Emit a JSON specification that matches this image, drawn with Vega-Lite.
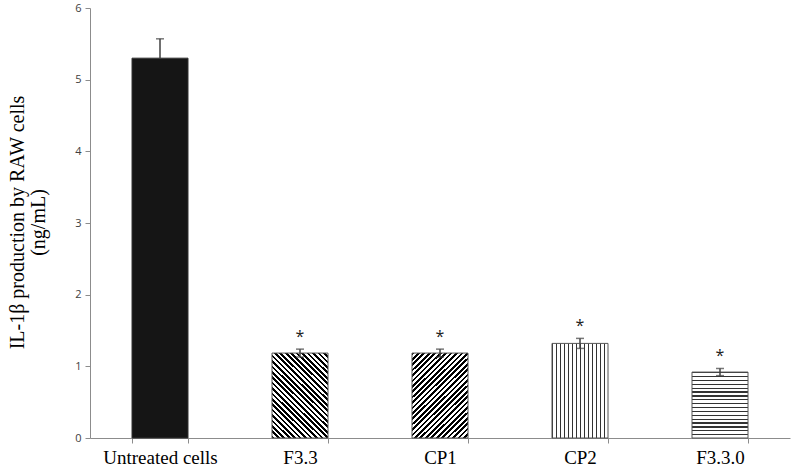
{
  "$schema": "https://vega.github.io/schema/vega-lite/v6.json",
  "autosize": {"type": "none"},
  "padding": {"left": 90, "top": 8, "right": 2, "bottom": 29},
  "width": 700,
  "height": 430,
  "background": "white",
  "config": {"view": {"stroke": null}},
  "data": {"values": [
    {"group": "Untreated cells", "mean": 5.3, "err": 0.27, "sig": ""},
    {"group": "F3.3", "mean": 1.185, "err": 0.055, "sig": "*"},
    {"group": "CP1", "mean": 1.185, "err": 0.055, "sig": "*"},
    {"group": "CP2", "mean": 1.32, "err": 0.07, "sig": "*"},
    {"group": "F3.3.0", "mean": 0.92, "err": 0.05, "sig": "*"}
  ]},
  "encoding": {
    "x": {"field": "group", "type": "nominal", "sort": null,
      "scale": {"paddingInner": 0.6, "paddingOuter": 0.3},
      "axis": {"title": null, "labelAngle": 0, "labelFont": "Liberation Serif", "labelFontSize": 19, "labelColor": "black",
        "tickBand": "extent", "tickSize": 5, "labelPadding": 5, "domainColor": "#8c8c8c", "tickColor": "#8c8c8c", "grid": false}}
  },
  "layer": [
    {
      "transform": [{"filter": "datum.group === 'Untreated cells'"}],
      "mark": {"type": "bar", "fill": "#151515", "stroke": "#333333", "strokeWidth": 1},
      "encoding": {
        "y": {"field": "mean", "type": "quantitative",
          "scale": {"domain": [0, 6], "nice": false},
          "axis": {"values": [0, 1, 2, 3, 4, 5, 6], "format": "d", "grid": false, "tickSize": 5, "labelPadding": 4,
            "labelFont": "Open Sans", "labelFontSize": 11, "labelColor": "#404040",
            "domainColor": "#8c8c8c", "tickColor": "#8c8c8c",
            "title": ["IL-1β production by  RAW cells", "(ng/mL)"],
            "titleFont": "Liberation Serif", "titleFontSize": 20, "titleFontWeight": "normal", "titleColor": "black",
            "titleAngle": -90, "titleAlign": "center", "titleBaseline": "top", "titleLineHeight": 21,
            "titleX": -83, "titleY": 214}}
      }
    },
    {
      "transform": [{"filter": "datum.group === 'F3.3'"}],
      "mark": {"type": "bar", "stroke": "#555555", "strokeWidth": 1,
        "fill": {"gradient": "linear", "x1": 0, "y1": 1, "x2": 0.757, "y2": -0.159, "stops": [
          {"offset": 0, "color": "black"}, {"offset": 0.0192, "color": "black"}, {"offset": 0.0192, "color": "white"}, {"offset": 0.0385, "color": "white"},
          {"offset": 0.0385, "color": "black"}, {"offset": 0.0577, "color": "black"}, {"offset": 0.0577, "color": "white"}, {"offset": 0.0769, "color": "white"},
          {"offset": 0.0769, "color": "black"}, {"offset": 0.0962, "color": "black"}, {"offset": 0.0962, "color": "white"}, {"offset": 0.1154, "color": "white"},
          {"offset": 0.1154, "color": "black"}, {"offset": 0.1346, "color": "black"}, {"offset": 0.1346, "color": "white"}, {"offset": 0.1538, "color": "white"},
          {"offset": 0.1538, "color": "black"}, {"offset": 0.1731, "color": "black"}, {"offset": 0.1731, "color": "white"}, {"offset": 0.1923, "color": "white"},
          {"offset": 0.1923, "color": "black"}, {"offset": 0.2115, "color": "black"}, {"offset": 0.2115, "color": "white"}, {"offset": 0.2308, "color": "white"},
          {"offset": 0.2308, "color": "black"}, {"offset": 0.25, "color": "black"}, {"offset": 0.25, "color": "white"}, {"offset": 0.2692, "color": "white"},
          {"offset": 0.2692, "color": "black"}, {"offset": 0.2885, "color": "black"}, {"offset": 0.2885, "color": "white"}, {"offset": 0.3077, "color": "white"},
          {"offset": 0.3077, "color": "black"}, {"offset": 0.3269, "color": "black"}, {"offset": 0.3269, "color": "white"}, {"offset": 0.3462, "color": "white"},
          {"offset": 0.3462, "color": "black"}, {"offset": 0.3654, "color": "black"}, {"offset": 0.3654, "color": "white"}, {"offset": 0.3846, "color": "white"},
          {"offset": 0.3846, "color": "black"}, {"offset": 0.4038, "color": "black"}, {"offset": 0.4038, "color": "white"}, {"offset": 0.4231, "color": "white"},
          {"offset": 0.4231, "color": "black"}, {"offset": 0.4423, "color": "black"}, {"offset": 0.4423, "color": "white"}, {"offset": 0.4615, "color": "white"},
          {"offset": 0.4615, "color": "black"}, {"offset": 0.4808, "color": "black"}, {"offset": 0.4808, "color": "white"}, {"offset": 0.5, "color": "white"},
          {"offset": 0.5, "color": "black"}, {"offset": 0.5192, "color": "black"}, {"offset": 0.5192, "color": "white"}, {"offset": 0.5385, "color": "white"},
          {"offset": 0.5385, "color": "black"}, {"offset": 0.5577, "color": "black"}, {"offset": 0.5577, "color": "white"}, {"offset": 0.5769, "color": "white"},
          {"offset": 0.5769, "color": "black"}, {"offset": 0.5962, "color": "black"}, {"offset": 0.5962, "color": "white"}, {"offset": 0.6154, "color": "white"},
          {"offset": 0.6154, "color": "black"}, {"offset": 0.6346, "color": "black"}, {"offset": 0.6346, "color": "white"}, {"offset": 0.6538, "color": "white"},
          {"offset": 0.6538, "color": "black"}, {"offset": 0.6731, "color": "black"}, {"offset": 0.6731, "color": "white"}, {"offset": 0.6923, "color": "white"},
          {"offset": 0.6923, "color": "black"}, {"offset": 0.7115, "color": "black"}, {"offset": 0.7115, "color": "white"}, {"offset": 0.7308, "color": "white"},
          {"offset": 0.7308, "color": "black"}, {"offset": 0.75, "color": "black"}, {"offset": 0.75, "color": "white"}, {"offset": 0.7692, "color": "white"},
          {"offset": 0.7692, "color": "black"}, {"offset": 0.7885, "color": "black"}, {"offset": 0.7885, "color": "white"}, {"offset": 0.8077, "color": "white"},
          {"offset": 0.8077, "color": "black"}, {"offset": 0.8269, "color": "black"}, {"offset": 0.8269, "color": "white"}, {"offset": 0.8462, "color": "white"},
          {"offset": 0.8462, "color": "black"}, {"offset": 0.8654, "color": "black"}, {"offset": 0.8654, "color": "white"}, {"offset": 0.8846, "color": "white"},
          {"offset": 0.8846, "color": "black"}, {"offset": 0.9038, "color": "black"}, {"offset": 0.9038, "color": "white"}, {"offset": 0.9231, "color": "white"},
          {"offset": 0.9231, "color": "black"}, {"offset": 0.9423, "color": "black"}, {"offset": 0.9423, "color": "white"}, {"offset": 0.9615, "color": "white"},
          {"offset": 0.9615, "color": "black"}, {"offset": 0.9808, "color": "black"}, {"offset": 0.9808, "color": "white"}, {"offset": 1, "color": "white"}
        ]}},
      "encoding": {"y": {"field": "mean", "type": "quantitative"}}
    },
    {
      "transform": [{"filter": "datum.group === 'CP1'"}],
      "mark": {"type": "bar", "stroke": "#555555", "strokeWidth": 1,
        "fill": {"gradient": "linear", "x1": 0, "y1": 0, "x2": 0.757, "y2": 1.159, "stops": [
          {"offset": 0, "color": "black"}, {"offset": 0.0192, "color": "black"}, {"offset": 0.0192, "color": "white"}, {"offset": 0.0385, "color": "white"},
          {"offset": 0.0385, "color": "black"}, {"offset": 0.0577, "color": "black"}, {"offset": 0.0577, "color": "white"}, {"offset": 0.0769, "color": "white"},
          {"offset": 0.0769, "color": "black"}, {"offset": 0.0962, "color": "black"}, {"offset": 0.0962, "color": "white"}, {"offset": 0.1154, "color": "white"},
          {"offset": 0.1154, "color": "black"}, {"offset": 0.1346, "color": "black"}, {"offset": 0.1346, "color": "white"}, {"offset": 0.1538, "color": "white"},
          {"offset": 0.1538, "color": "black"}, {"offset": 0.1731, "color": "black"}, {"offset": 0.1731, "color": "white"}, {"offset": 0.1923, "color": "white"},
          {"offset": 0.1923, "color": "black"}, {"offset": 0.2115, "color": "black"}, {"offset": 0.2115, "color": "white"}, {"offset": 0.2308, "color": "white"},
          {"offset": 0.2308, "color": "black"}, {"offset": 0.25, "color": "black"}, {"offset": 0.25, "color": "white"}, {"offset": 0.2692, "color": "white"},
          {"offset": 0.2692, "color": "black"}, {"offset": 0.2885, "color": "black"}, {"offset": 0.2885, "color": "white"}, {"offset": 0.3077, "color": "white"},
          {"offset": 0.3077, "color": "black"}, {"offset": 0.3269, "color": "black"}, {"offset": 0.3269, "color": "white"}, {"offset": 0.3462, "color": "white"},
          {"offset": 0.3462, "color": "black"}, {"offset": 0.3654, "color": "black"}, {"offset": 0.3654, "color": "white"}, {"offset": 0.3846, "color": "white"},
          {"offset": 0.3846, "color": "black"}, {"offset": 0.4038, "color": "black"}, {"offset": 0.4038, "color": "white"}, {"offset": 0.4231, "color": "white"},
          {"offset": 0.4231, "color": "black"}, {"offset": 0.4423, "color": "black"}, {"offset": 0.4423, "color": "white"}, {"offset": 0.4615, "color": "white"},
          {"offset": 0.4615, "color": "black"}, {"offset": 0.4808, "color": "black"}, {"offset": 0.4808, "color": "white"}, {"offset": 0.5, "color": "white"},
          {"offset": 0.5, "color": "black"}, {"offset": 0.5192, "color": "black"}, {"offset": 0.5192, "color": "white"}, {"offset": 0.5385, "color": "white"},
          {"offset": 0.5385, "color": "black"}, {"offset": 0.5577, "color": "black"}, {"offset": 0.5577, "color": "white"}, {"offset": 0.5769, "color": "white"},
          {"offset": 0.5769, "color": "black"}, {"offset": 0.5962, "color": "black"}, {"offset": 0.5962, "color": "white"}, {"offset": 0.6154, "color": "white"},
          {"offset": 0.6154, "color": "black"}, {"offset": 0.6346, "color": "black"}, {"offset": 0.6346, "color": "white"}, {"offset": 0.6538, "color": "white"},
          {"offset": 0.6538, "color": "black"}, {"offset": 0.6731, "color": "black"}, {"offset": 0.6731, "color": "white"}, {"offset": 0.6923, "color": "white"},
          {"offset": 0.6923, "color": "black"}, {"offset": 0.7115, "color": "black"}, {"offset": 0.7115, "color": "white"}, {"offset": 0.7308, "color": "white"},
          {"offset": 0.7308, "color": "black"}, {"offset": 0.75, "color": "black"}, {"offset": 0.75, "color": "white"}, {"offset": 0.7692, "color": "white"},
          {"offset": 0.7692, "color": "black"}, {"offset": 0.7885, "color": "black"}, {"offset": 0.7885, "color": "white"}, {"offset": 0.8077, "color": "white"},
          {"offset": 0.8077, "color": "black"}, {"offset": 0.8269, "color": "black"}, {"offset": 0.8269, "color": "white"}, {"offset": 0.8462, "color": "white"},
          {"offset": 0.8462, "color": "black"}, {"offset": 0.8654, "color": "black"}, {"offset": 0.8654, "color": "white"}, {"offset": 0.8846, "color": "white"},
          {"offset": 0.8846, "color": "black"}, {"offset": 0.9038, "color": "black"}, {"offset": 0.9038, "color": "white"}, {"offset": 0.9231, "color": "white"},
          {"offset": 0.9231, "color": "black"}, {"offset": 0.9423, "color": "black"}, {"offset": 0.9423, "color": "white"}, {"offset": 0.9615, "color": "white"},
          {"offset": 0.9615, "color": "black"}, {"offset": 0.9808, "color": "black"}, {"offset": 0.9808, "color": "white"}, {"offset": 1, "color": "white"}
        ]}},
      "encoding": {"y": {"field": "mean", "type": "quantitative"}}
    },
    {
      "transform": [{"filter": "datum.group === 'CP2'"}],
      "mark": {"type": "bar", "stroke": "#555555", "strokeWidth": 1,
        "fill": {"gradient": "linear", "x1": 0, "y1": 0, "x2": 1, "y2": 0, "stops": [
          {"offset": 0, "color": "#333333"}, {"offset": 0.0214, "color": "#333333"}, {"offset": 0.0214, "color": "white"}, {"offset": 0.0714, "color": "white"},
          {"offset": 0.0714, "color": "#333333"}, {"offset": 0.0929, "color": "#333333"}, {"offset": 0.0929, "color": "white"}, {"offset": 0.1429, "color": "white"},
          {"offset": 0.1429, "color": "#333333"}, {"offset": 0.1643, "color": "#333333"}, {"offset": 0.1643, "color": "white"}, {"offset": 0.2143, "color": "white"},
          {"offset": 0.2143, "color": "#333333"}, {"offset": 0.2357, "color": "#333333"}, {"offset": 0.2357, "color": "white"}, {"offset": 0.2857, "color": "white"},
          {"offset": 0.2857, "color": "#333333"}, {"offset": 0.3071, "color": "#333333"}, {"offset": 0.3071, "color": "white"}, {"offset": 0.3571, "color": "white"},
          {"offset": 0.3571, "color": "#333333"}, {"offset": 0.3786, "color": "#333333"}, {"offset": 0.3786, "color": "white"}, {"offset": 0.4286, "color": "white"},
          {"offset": 0.4286, "color": "#333333"}, {"offset": 0.45, "color": "#333333"}, {"offset": 0.45, "color": "white"}, {"offset": 0.5, "color": "white"},
          {"offset": 0.5, "color": "#333333"}, {"offset": 0.5214, "color": "#333333"}, {"offset": 0.5214, "color": "white"}, {"offset": 0.5714, "color": "white"},
          {"offset": 0.5714, "color": "#333333"}, {"offset": 0.5929, "color": "#333333"}, {"offset": 0.5929, "color": "white"}, {"offset": 0.6429, "color": "white"},
          {"offset": 0.6429, "color": "#333333"}, {"offset": 0.6643, "color": "#333333"}, {"offset": 0.6643, "color": "white"}, {"offset": 0.7143, "color": "white"},
          {"offset": 0.7143, "color": "#333333"}, {"offset": 0.7357, "color": "#333333"}, {"offset": 0.7357, "color": "white"}, {"offset": 0.7857, "color": "white"},
          {"offset": 0.7857, "color": "#333333"}, {"offset": 0.8071, "color": "#333333"}, {"offset": 0.8071, "color": "white"}, {"offset": 0.8571, "color": "white"},
          {"offset": 0.8571, "color": "#333333"}, {"offset": 0.8786, "color": "#333333"}, {"offset": 0.8786, "color": "white"}, {"offset": 0.9286, "color": "white"},
          {"offset": 0.9286, "color": "#333333"}, {"offset": 0.95, "color": "#333333"}, {"offset": 0.95, "color": "white"}, {"offset": 1, "color": "white"}
        ]}},
      "encoding": {"y": {"field": "mean", "type": "quantitative"}}
    },
    {
      "transform": [{"filter": "datum.group === 'F3.3.0'"}],
      "mark": {"type": "bar", "stroke": "#555555", "strokeWidth": 1,
        "fill": {"gradient": "linear", "x1": 0, "y1": 0, "x2": 0, "y2": 1, "stops": [
          {"offset": 0, "color": "#333333"}, {"offset": 0.0176, "color": "#333333"}, {"offset": 0.0176, "color": "white"}, {"offset": 0.0588, "color": "white"},
          {"offset": 0.0588, "color": "#333333"}, {"offset": 0.0765, "color": "#333333"}, {"offset": 0.0765, "color": "white"}, {"offset": 0.1176, "color": "white"},
          {"offset": 0.1176, "color": "#333333"}, {"offset": 0.1353, "color": "#333333"}, {"offset": 0.1353, "color": "white"}, {"offset": 0.1765, "color": "white"},
          {"offset": 0.1765, "color": "#333333"}, {"offset": 0.1941, "color": "#333333"}, {"offset": 0.1941, "color": "white"}, {"offset": 0.2353, "color": "white"},
          {"offset": 0.2353, "color": "#333333"}, {"offset": 0.2529, "color": "#333333"}, {"offset": 0.2529, "color": "white"}, {"offset": 0.2941, "color": "white"},
          {"offset": 0.2941, "color": "#333333"}, {"offset": 0.3118, "color": "#333333"}, {"offset": 0.3118, "color": "white"}, {"offset": 0.3529, "color": "white"},
          {"offset": 0.3529, "color": "#333333"}, {"offset": 0.3706, "color": "#333333"}, {"offset": 0.3706, "color": "white"}, {"offset": 0.4118, "color": "white"},
          {"offset": 0.4118, "color": "#333333"}, {"offset": 0.4294, "color": "#333333"}, {"offset": 0.4294, "color": "white"}, {"offset": 0.4706, "color": "white"},
          {"offset": 0.4706, "color": "#333333"}, {"offset": 0.4882, "color": "#333333"}, {"offset": 0.4882, "color": "white"}, {"offset": 0.5294, "color": "white"},
          {"offset": 0.5294, "color": "#333333"}, {"offset": 0.5471, "color": "#333333"}, {"offset": 0.5471, "color": "white"}, {"offset": 0.5882, "color": "white"},
          {"offset": 0.5882, "color": "#333333"}, {"offset": 0.6059, "color": "#333333"}, {"offset": 0.6059, "color": "white"}, {"offset": 0.6471, "color": "white"},
          {"offset": 0.6471, "color": "#333333"}, {"offset": 0.6647, "color": "#333333"}, {"offset": 0.6647, "color": "white"}, {"offset": 0.7059, "color": "white"},
          {"offset": 0.7059, "color": "#333333"}, {"offset": 0.7235, "color": "#333333"}, {"offset": 0.7235, "color": "white"}, {"offset": 0.7647, "color": "white"},
          {"offset": 0.7647, "color": "#333333"}, {"offset": 0.7824, "color": "#333333"}, {"offset": 0.7824, "color": "white"}, {"offset": 0.8235, "color": "white"},
          {"offset": 0.8235, "color": "#333333"}, {"offset": 0.8412, "color": "#333333"}, {"offset": 0.8412, "color": "white"}, {"offset": 0.8824, "color": "white"},
          {"offset": 0.8824, "color": "#333333"}, {"offset": 0.9, "color": "#333333"}, {"offset": 0.9, "color": "white"}, {"offset": 0.9412, "color": "white"},
          {"offset": 0.9412, "color": "#333333"}, {"offset": 0.9588, "color": "#333333"}, {"offset": 0.9588, "color": "white"}, {"offset": 1, "color": "white"}
        ]}},
      "encoding": {"y": {"field": "mean", "type": "quantitative"}}
    },
    {
      "transform": [{"calculate": "datum.mean + datum.err", "as": "hi"}],
      "mark": {"type": "rule", "color": "#404040", "strokeWidth": 1.5},
      "encoding": {"y": {"field": "mean", "type": "quantitative"}, "y2": {"field": "hi"}}
    },
    {
      "transform": [{"filter": "datum.group !== 'Untreated cells'"}, {"calculate": "datum.mean - datum.err", "as": "lo"}],
      "mark": {"type": "rule", "color": "#404040", "strokeWidth": 1.5},
      "encoding": {"y": {"field": "lo", "type": "quantitative"}, "y2": {"field": "mean"}}
    },
    {
      "transform": [{"calculate": "datum.mean + datum.err", "as": "hi"}],
      "mark": {"type": "tick", "color": "#404040", "thickness": 1.5, "size": 8},
      "encoding": {"y": {"field": "hi", "type": "quantitative"}}
    },
    {
      "transform": [{"filter": "datum.group !== 'Untreated cells'"}, {"calculate": "datum.mean - datum.err", "as": "lo"}],
      "mark": {"type": "tick", "color": "#404040", "thickness": 1.5, "size": 8},
      "encoding": {"y": {"field": "lo", "type": "quantitative"}}
    },
    {
      "transform": [{"calculate": "datum.mean + datum.err", "as": "hi"}],
      "mark": {"type": "text", "font": "Open Sans", "fontSize": 16, "color": "#222222", "baseline": "middle", "dy": -12},
      "encoding": {"y": {"field": "hi", "type": "quantitative"}, "text": {"field": "sig"}}
    }
  ]
}
